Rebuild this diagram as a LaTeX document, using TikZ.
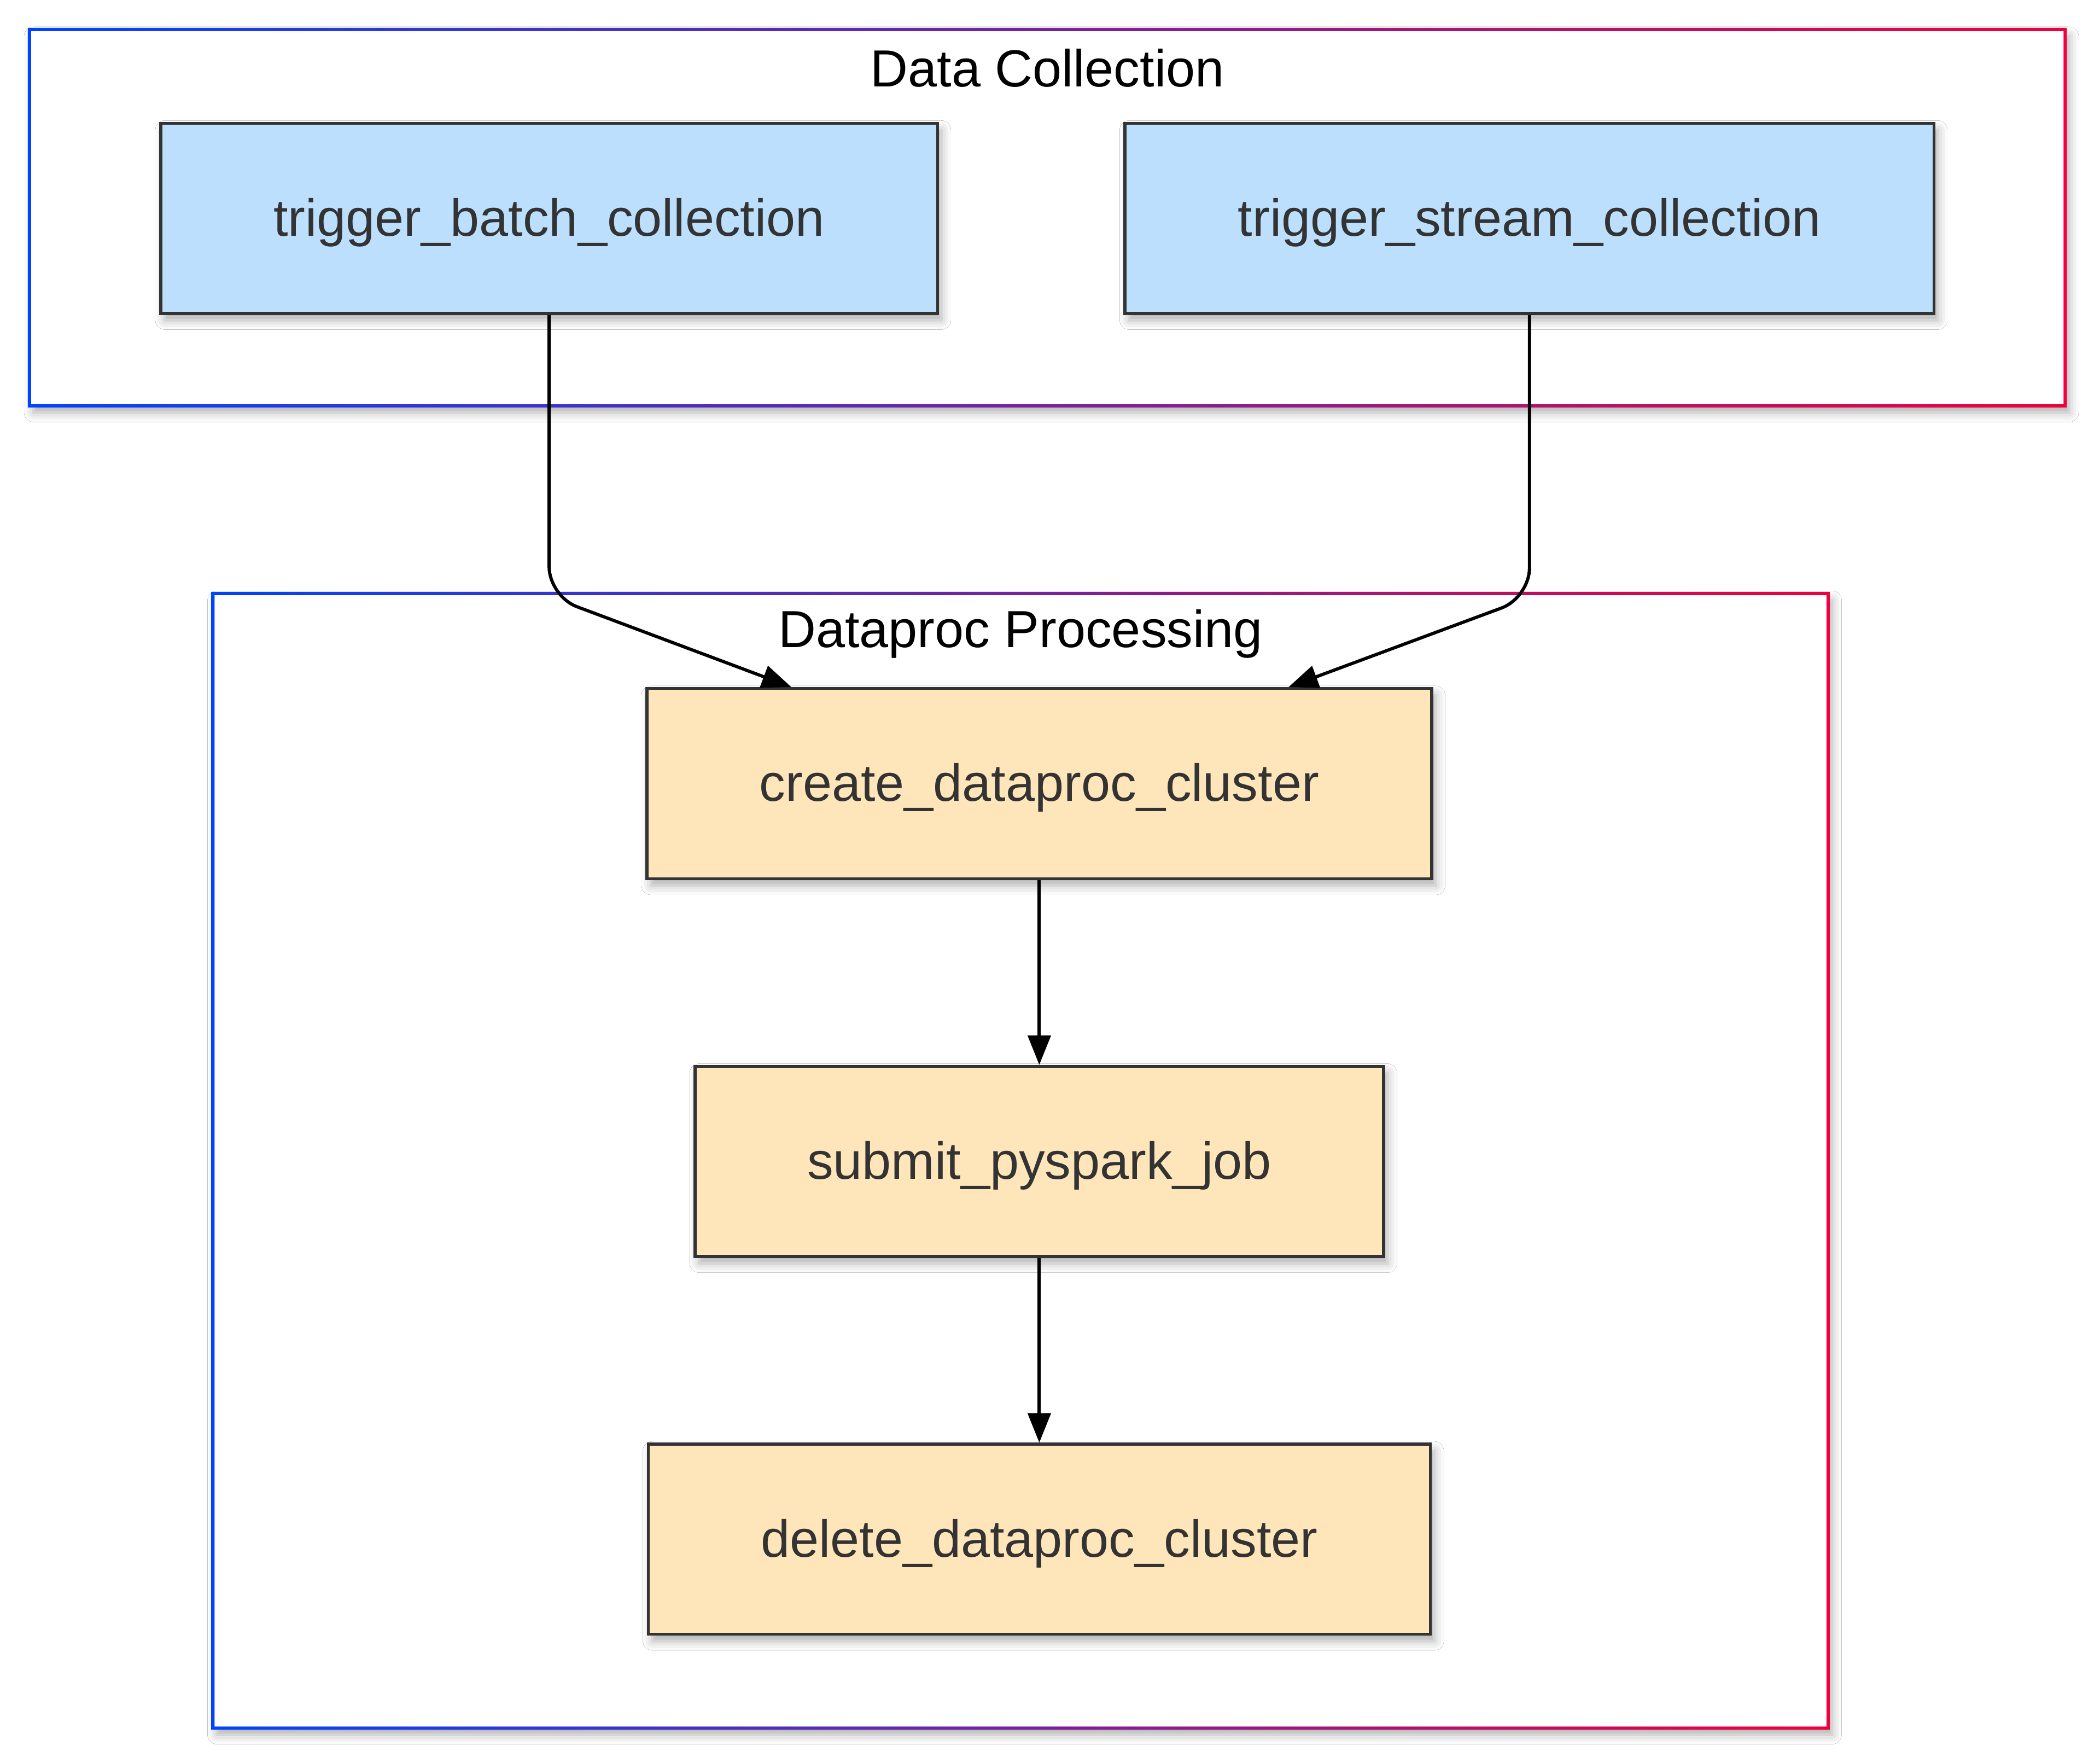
\documentclass[tikz,border=0pt]{standalone}
\usepackage{fontspec}
\setmainfont{Liberation Sans}
\usetikzlibrary{arrows.meta,shadows.blur}
\definecolor{gblue}{HTML}{0044FF}
\definecolor{gred}{HTML}{F0003C}
\definecolor{bluefill}{HTML}{BBDFFC}
\definecolor{orangefill}{HTML}{FFE6BA}
\definecolor{nodeline}{HTML}{333333}
\definecolor{nodetext}{HTML}{333333}
\begin{document}
\begin{tikzpicture}[x=1bp,y=-1bp,
  lbl/.style={font=\fontsize{39.1}{46}\selectfont},
  softshadow/.style={blur shadow={shadow xshift=3bp, shadow yshift=-5bp, shadow blur radius=7bp, shadow opacity=32}},
  task/.style={lbl, draw=nodeline, line width=2.2bp, minimum height=142bp, inner sep=0pt, text height=34.5bp, text depth=8.2bp, text=nodetext, softshadow},
  bluetask/.style={task, fill=bluefill},
  orangetask/.style={task, fill=orangefill},
  title/.style={lbl, text=black, inner sep=0pt},
  arr/.style={draw=black, line width=2.4bp, rounded corners=22bp, -{Triangle[length=22bp,width=17bp]}}
]
% canvas
\fill[white] (0,0) rectangle (1568,1316);
\useasboundingbox (0,0) rectangle (1568,1316);

% frames
\path[fill=white, softshadow] (22,22) rectangle (1542,303);
\shade[left color=gblue, right color=gred, even odd rule]
  (20.8,20.8) rectangle (1543.2,304.2) (23.2,23.2) rectangle (1540.8,301.8);
\path[fill=white, softshadow] (159,443) rectangle (1365,1290);
\shade[left color=gblue, right color=gred, even odd rule]
  (157.8,441.8) rectangle (1366.2,1291.2) (160.2,444.2) rectangle (1363.8,1288.8);

% titles
\node[title] (t1) at (782,51) {Data Collection};
\node[title] (t2) at (762,473) {Dataproc Processing};

% tasks
\node[bluetask, minimum width=580bp] (A) at (410,163) {trigger\_batch\_collection};
\node[bluetask, minimum width=604bp] (B) at (1142,163) {trigger\_stream\_collection};
\node[orangetask, minimum width=586bp] (C) at (776,585) {create\_dataproc\_cluster};
\node[orangetask, minimum width=514bp] (D) at (776,867) {submit\_pyspark\_job};
\node[orangetask, minimum width=584bp] (E) at (776,1149) {delete\_dataproc\_cluster};

% connectors
\draw[arr] (A.south) -- ++(0,210) -- ([xshift=109bp]C.north west);
\draw[arr] (B.south) -- ++(0,211) -- ([xshift=-108bp]C.north east);
\draw[arr] (C.south) -- (D.north);
\draw[arr] (D.south) -- (E.north);
\end{tikzpicture}
\end{document}
